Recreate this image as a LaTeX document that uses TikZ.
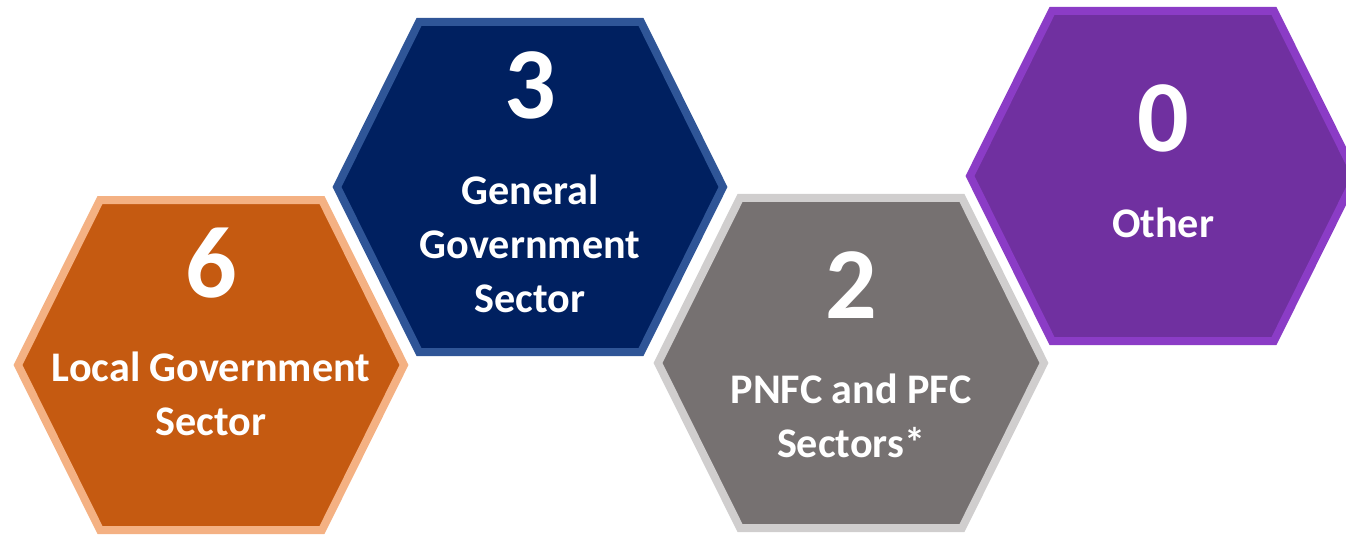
\documentclass[tikz,border=0pt]{standalone}
\usepackage{fontspec}
\setmainfont{Carlito}
\usepackage{xcolor}

\definecolor{localfill}{HTML}{C55A11}
\definecolor{localedge}{HTML}{F4B183}
\definecolor{genfill}{HTML}{002060}
\definecolor{genedge}{HTML}{2F5597}
\definecolor{corpfill}{HTML}{767171}
\definecolor{corpedge}{HTML}{D0CECE}
\definecolor{otherfill}{HTML}{7030A0}
\definecolor{otheredge}{HTML}{8B3CC6}

\tikzset{
  hexcell/.style = {line width=0.16cm, line join=miter},
  count/.style   = {text=white, font=\bfseries\fontsize{58}{60}\selectfont, anchor=base, inner sep=0pt},
  caption/.style = {text=white, font=\bfseries\fontsize{24}{30.5}\selectfont, align=center, anchor=base, inner sep=0pt}
}

\begin{document}
\begin{tikzpicture}
        \clip (0,0) rectangle (26.92,10.70);
        \useasboundingbox (0,0) rectangle (26.92,10.70);

        % the four cells
        \draw[hexcell, fill=localfill, draw=localedge, shift={(4.22,3.40)}]
            (-3.86,0) -- (-2.22,3.30) -- (2.22,3.30) -- (3.86,0) -- (2.22,-3.30) -- (-2.22,-3.30) -- cycle;
        \draw[hexcell, fill=genfill, draw=genedge, shift={(10.60,6.96)}]
            (-3.86,0) -- (-2.22,3.30) -- (2.22,3.30) -- (3.86,0) -- (2.22,-3.30) -- (-2.22,-3.30) -- cycle;
        \draw[hexcell, fill=corpfill, draw=corpedge, shift={(17.02,3.44)}]
            (-3.86,0) -- (-2.22,3.30) -- (2.22,3.30) -- (3.86,0) -- (2.22,-3.30) -- (-2.22,-3.30) -- cycle;
        \draw[hexcell, fill=otherfill, draw=otheredge, shift={(23.26,7.18)}]
            (-3.86,0) -- (-2.22,3.30) -- (2.22,3.30) -- (3.86,0) -- (2.22,-3.30) -- (-2.22,-3.30) -- cycle;

        % counts
        \node[count] (numLocal) at (4.22,4.76) {6};
        \node[count] (numGen)   at (10.60,8.34) {3};
        \node[count] (numCorp)  at (17.02,4.34) {2};
        \node[count] (numOther) at (23.26,7.66) {0};

        % sector names (base = last line)
        \node[caption] (lblLocal) at (4.22,2.00) {Local Government\\Sector};
        \node[caption] (lblGen)   at (10.60,4.46) {General\\Government\\Sector};
        \node[caption] (lblCorp)  at (17.02,1.56) {PNFC and PFC\\Sectors*};
        \node[caption] (lblOther) at (23.26,5.96) {Other};
\end{tikzpicture}
\end{document}
